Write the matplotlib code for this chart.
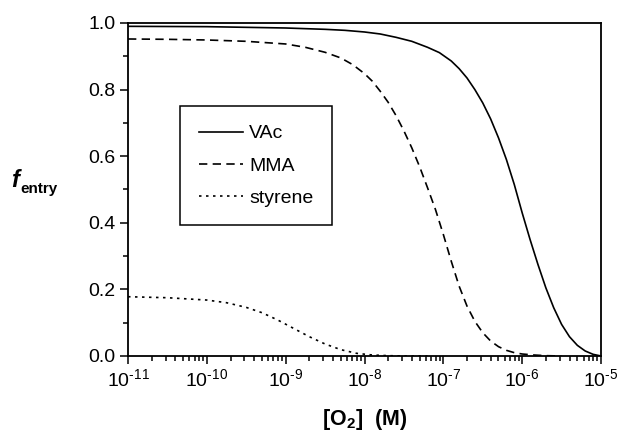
import numpy as np
import matplotlib
matplotlib.use("Agg")
import matplotlib.pyplot as plt
from matplotlib.ticker import LogLocator, MultipleLocator, FuncFormatter

plt.rcParams['font.family'] = ['Liberation Sans', 'DejaVu Sans']
plt.rcParams['mathtext.fontset'] = 'custom'
plt.rcParams['mathtext.rm'] = 'Liberation Sans'
plt.rcParams['mathtext.bf'] = 'Liberation Sans:bold'
plt.rcParams['mathtext.it'] = 'Liberation Sans:italic'

# log10 of [O2] (M) and f_entry
vac_log = [-11.0, -10.0, -9.5, -9.0, -8.5, -8.25, -8.0, -7.8, -7.6, -7.4, -7.2,
           -7.05, -6.9, -6.8, -6.7, -6.6, -6.5, -6.4, -6.3, -6.2, -6.1, -6.0,
           -5.9, -5.8, -5.7, -5.6, -5.5, -5.4, -5.3, -5.2, -5.1, -5.0]
vac_f = [0.990, 0.989, 0.987, 0.985, 0.981, 0.978, 0.973, 0.967, 0.957, 0.945, 0.927,
         0.911, 0.886, 0.863, 0.835, 0.800, 0.760, 0.712, 0.655, 0.590, 0.515, 0.430,
         0.350, 0.275, 0.205, 0.145, 0.095, 0.058, 0.032, 0.015, 0.005, 0.0]

mma_log = [-11.0, -10.5, -10.0, -9.5, -9.0, -8.75, -8.5, -8.3, -8.15, -8.0, -7.9,
           -7.8, -7.7, -7.6, -7.5, -7.4, -7.3, -7.2, -7.1, -7.0, -6.9, -6.8,
           -6.7, -6.6, -6.5, -6.4, -6.3, -6.2, -6.1, -6.0, -5.85, -5.7, -5.5]
mma_f = [0.952, 0.951, 0.949, 0.945, 0.937, 0.927, 0.912, 0.895, 0.875, 0.848, 0.825,
         0.795, 0.762, 0.722, 0.676, 0.625, 0.568, 0.505, 0.440, 0.365, 0.285, 0.210,
         0.150, 0.104, 0.070, 0.045, 0.028, 0.017, 0.010, 0.006, 0.003, 0.001, 0.0]

sty_log = [-11.0, -10.5, -10.0, -9.75, -9.5, -9.3, -9.1, -8.9, -8.7, -8.5, -8.3,
           -8.1, -7.9, -7.7, -7.5, -7.2]
sty_f = [0.178, 0.175, 0.168, 0.160, 0.146, 0.130, 0.108, 0.083, 0.058, 0.036, 0.019,
         0.008, 0.003, 0.001, 0.0, 0.0]

fig = plt.figure(figsize=(6.21, 4.33), dpi=100)
ax = fig.add_axes([128 / 621, 1 - 356 / 433, 473 / 621, 333 / 433])

ax.plot(10 ** np.array(vac_log), vac_f, color='black', lw=1.2, ls='-', label='VAc')
ax.plot(10 ** np.array(mma_log), mma_f, color='black', lw=1.2, ls=(0, (5, 3.2)), label='MMA')
ax.plot(10 ** np.array(sty_log), sty_f, color='black', lw=1.2, ls=(0, (1.5, 2.7)), label='styrene')

ax.set_xscale('log')
ax.set_xlim(1e-11, 1e-5)
ax.set_ylim(0.0, 1.0)
ax.xaxis.set_major_locator(LogLocator(base=10, numticks=10))
ax.xaxis.set_minor_locator(LogLocator(base=10, subs=np.arange(2, 10), numticks=20))
ax.xaxis.set_major_formatter(FuncFormatter(
    lambda v, p: r'10$^{\text{-%d}}$' % round(-np.log10(v))))
ax.yaxis.set_major_locator(MultipleLocator(0.2))
ax.yaxis.set_minor_locator(MultipleLocator(0.1))
ax.yaxis.set_major_formatter(plt.FormatStrFormatter('%.1f'))

ax.tick_params(which='both', direction='out', top=False, right=False, width=1.1,
               labelsize=14)
ax.tick_params(which='major', length=6)
ax.tick_params(which='minor', length=3.5)
ax.tick_params(axis='x', pad=3)
ax.tick_params(axis='y', pad=3)
for s in ax.spines.values():
    s.set_linewidth(1.3)

ax.set_xlabel(r'[O$_\mathbf{2}$]  (M)', fontsize=15.5, fontweight='bold', labelpad=12)

fig.text(11 / 621, 1 - 187 / 433, 'f', fontsize=17, fontweight='bold', style='italic')
fig.text(20 / 621, 1 - 193 / 433, 'entry', fontsize=11, fontweight='bold')

leg = ax.legend(loc='upper left', bbox_to_anchor=(0.11, 0.75), fontsize=14,
                frameon=True, fancybox=False, framealpha=1, edgecolor='black',
                handlelength=2.3, handletextpad=0.3, labelspacing=0.75,
                borderpad=0.95, borderaxespad=0)
leg.get_frame().set_linewidth(1.1)

fig.savefig('out.png', dpi=100)
